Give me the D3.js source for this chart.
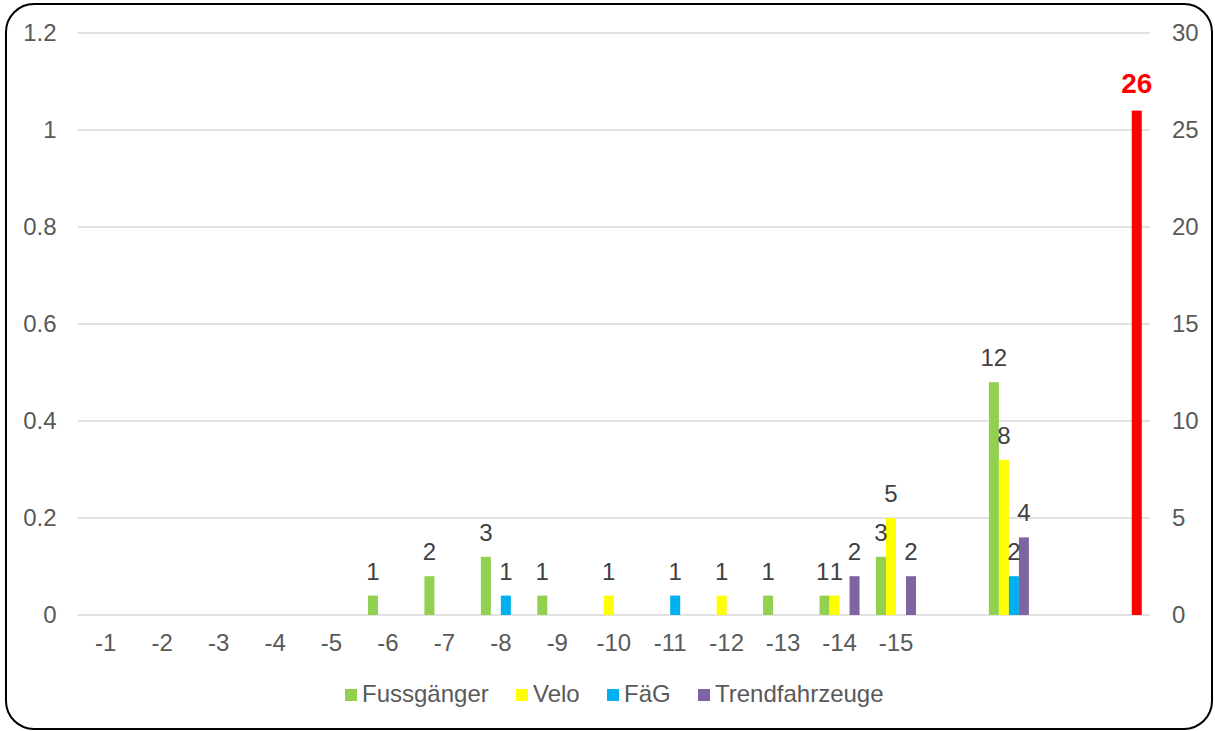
<!DOCTYPE html>
<html>
<head>
<meta charset="utf-8">
<script src="https://cdn.jsdelivr.net/npm/d3@7/dist/d3.min.js"></script>
<style>
  html, body { margin: 0; padding: 0; background: #fff; }
  svg { display: block; font-family: "Liberation Sans", Arial, sans-serif; }
</style>
</head>
<body>
<svg id="chart" width="1215" height="731"></svg>
<script>
// ---- data ----
const categories = ["-1","-2","-3","-4","-5","-6","-7","-8","-9","-10","-11","-12","-13","-14","-15","","","",""];
const seriesNames = ["Fussgänger", "Velo", "FäG", "Trendfahrzeuge"];
const fussgaenger    = [null,null,null,null,null,1,2,3,1,null,null,null,1,1,3,null,12,null,null];
const velo           = [null,null,null,null,null,null,null,null,null,1,null,1,null,1,5,null,8,null,null];
const faeg           = [null,null,null,null,null,null,null,1,null,null,1,null,null,null,null,null,2,null,null];
const trendfahrzeuge = [null,null,null,null,null,null,null,null,null,null,null,null,null,2,2,null,4,null,null];
const gesamt         = [null,null,null,null,null,null,null,null,null,null,null,null,null,null,null,null,null,null,26];
const leftTicks  = [0, 0.2, 0.4, 0.6, 0.8, 1, 1.2];
const rightTicks = [0, 5, 10, 15, 20, 25, 30];
const colors = ["#92D050", "#FFFF00", "#00B0F0", "#8064A2"];
const totalColor = "#FF0000";

const seriesValues = [fussgaenger, velo, faeg, trendfahrzeuge];

// ---- layout ----
const FS = 24;
const svg = d3.select("#chart");
const plot = { left: 77.5, right: 1150, top: 33, bottom: 615 };

// border
svg.append("rect")
  .attr("x", 6).attr("y", 4).attr("width", 1206).attr("height", 725)
  .attr("rx", 28).attr("ry", 28)
  .attr("fill", "#fff").attr("stroke", "#000").attr("stroke-width", 2);

const x0 = d3.scaleBand().domain(d3.range(categories.length)).range([plot.left, plot.right]).padding(0);
const x1 = d3.scaleBand().domain(seriesNames).range([0, x0.bandwidth()]).paddingInner(0).paddingOuter(0.822);
const yL = d3.scaleLinear().domain([0, 1.2]).range([plot.bottom, plot.top]);
const yR = d3.scaleLinear().domain([0, 30]).range([plot.bottom, plot.top]);

// gridlines
svg.append("g").selectAll("line").data(leftTicks).join("line")
  .attr("x1", plot.left).attr("x2", plot.right)
  .attr("y1", d => yL(d)).attr("y2", d => yL(d))
  .attr("stroke", "#d9d9d9").attr("stroke-width", 1.5);

function styleTicks(g) {
  g.select(".domain").remove();
  g.selectAll("text").attr("font-size", FS).attr("fill", "#595959")
    .attr("font-family", "Liberation Sans, Arial, sans-serif");
}

// left axis
const leftAxis = d3.axisLeft(yL).tickValues(leftTicks).tickSize(0).tickPadding(21)
  .tickFormat(d => String(+d.toFixed(1)));
svg.append("g").attr("transform", `translate(${plot.left},0)`).call(leftAxis).call(styleTicks);

// right axis
const rightAxis = d3.axisRight(yR).tickValues(rightTicks).tickSize(0).tickPadding(22);
svg.append("g").attr("transform", `translate(${plot.right},0)`).call(rightAxis).call(styleTicks);

// bottom axis
const bottomAxis = d3.axisBottom(x0).tickSize(0).tickPadding(19).tickFormat(i => categories[i]);
svg.append("g").attr("transform", `translate(0,${plot.bottom})`).call(bottomAxis).call(styleTicks);

// bars
const barData = [];
seriesValues.forEach((arr, si) => {
  arr.forEach((v, ci) => { if (v != null) barData.push({ ci, si, v, name: seriesNames[si], color: colors[si] }); });
});
svg.append("g").selectAll("rect").data(barData).join("rect")
  .attr("x", d => x0(d.ci) + x1(d.name))
  .attr("width", x1.bandwidth())
  .attr("y", d => yR(d.v))
  .attr("height", d => yR(0) - yR(d.v))
  .attr("fill", d => d.color);

// data labels with a small nudge when neighbours at the same height collide
const labels = barData.map(d => ({
  ...d,
  lx: x0(d.ci) + x1(d.name) + x1.bandwidth() / 2,
  ly: yR(d.v) - 16
}));
const gLab = svg.append("g");
const lt = gLab.selectAll("text").data(labels).join("text")
  .attr("x", d => d.lx).attr("y", d => d.ly)
  .attr("text-anchor", "middle")
  .attr("font-size", FS).attr("fill", "#404040")
  .text(d => d.v);
lt.each(function(d) { d.w = this.getComputedTextLength(); });
for (let i = 0; i < labels.length; i++) {
  for (let j = 0; j < labels.length; j++) {
    const a = labels[i], b = labels[j];
    if (a.ci === b.ci && a.si < b.si && Math.abs(a.ly - b.ly) < FS * 0.8) {
      const need = (a.w + b.w) / 2 + 0.5 - (b.lx - a.lx);
      if (need > 0) { a.lx -= need / 2; b.lx += need / 2; }
    }
  }
}
lt.attr("x", d => d.lx);

// total bar (red), drawn in the last slot
const totalData = gesamt.map((v, ci) => ({ v, ci })).filter(d => d.v != null);
svg.append("g").selectAll("rect").data(totalData).join("rect")
  .attr("x", d => x0(d.ci) + x1("Trendfahrzeuge"))
  .attr("width", x1.bandwidth())
  .attr("y", d => yR(d.v))
  .attr("height", d => yR(0) - yR(d.v))
  .attr("fill", totalColor);
svg.append("g").selectAll("text").data(totalData).join("text")
  .attr("x", d => x0(d.ci) + x1("Trendfahrzeuge") + x1.bandwidth() / 2)
  .attr("y", d => yR(d.v) - 18)
  .attr("text-anchor", "middle")
  .attr("font-size", 28).attr("font-weight", "bold").attr("fill", totalColor)
  .text(d => d.v);

// legend
const legendX = [345, 516, 607, 698];
const lg = svg.append("g");
seriesNames.forEach((n, i) => {
  lg.append("rect").attr("x", legendX[i]).attr("y", 689).attr("width", 12).attr("height", 12).attr("fill", colors[i]);
  lg.append("text").attr("x", legendX[i] + 17).attr("y", 702)
    .attr("font-size", FS).attr("fill", "#595959").text(n);
});
</script>
</body>
</html>
